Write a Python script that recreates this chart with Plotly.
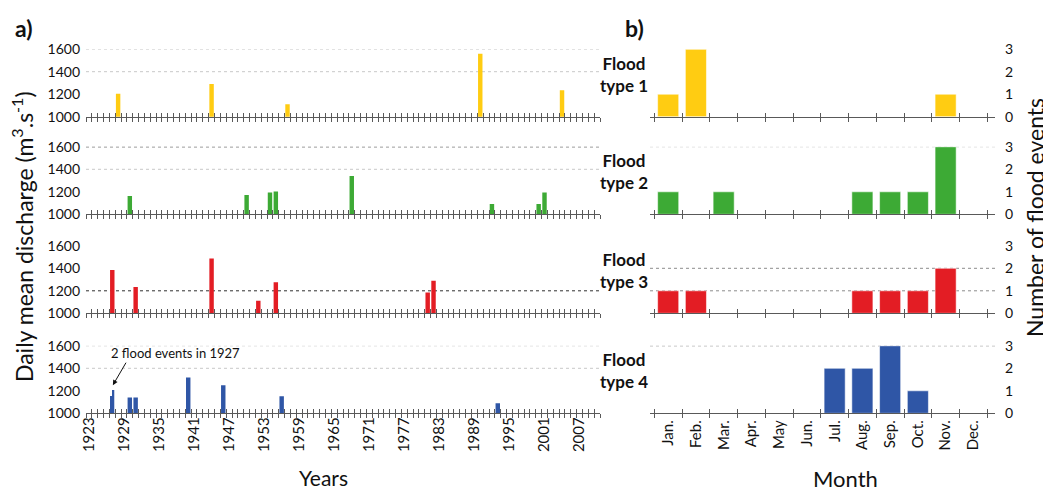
import numpy as np
import plotly.graph_objects as go
from collections import Counter

# ---------------- data ----------------
years_range = [1922.5, 2010.5]
year_label_vals = list(range(1923, 2008, 6))

months = ["Jan.", "Feb.", "Mar.", "Apr.", "May", "Jun.",
          "Jul.", "Aug.", "Sep.", "Oct.", "Nov.", "Dec."]

type1_years = [1928, 1944, 1957, 1990, 2004]
type1_discharge = [1205, 1290, 1110, 1560, 1235]
type2_years = [1930, 1950, 1954, 1955, 1968, 1992, 2000, 2001]
type2_discharge = [1162, 1171, 1194, 1203, 1340, 1091, 1091, 1194]
type3_years = [1927, 1931, 1944, 1952, 1955, 1981, 1982]
type3_discharge = [1384, 1233, 1488, 1112, 1275, 1185, 1290]
type4_years = [1927, 1927, 1930, 1931, 1940, 1946, 1956, 1993]
type4_discharge = [1153, 1206, 1141, 1141, 1318, 1249, 1151, 1089]

type1_monthly = [1, 3, 0, 0, 0, 0, 0, 0, 0, 0, 1, 0]
type2_monthly = [1, 0, 1, 0, 0, 0, 0, 1, 1, 1, 3, 0]
type3_monthly = [1, 1, 0, 0, 0, 0, 0, 1, 1, 1, 2, 0]
type4_monthly = [0, 0, 0, 0, 0, 0, 2, 2, 3, 1, 0, 0]

discharge_ticks = [1000, 1200, 1400, 1600]
count_ticks = [0, 1, 2, 3]
row_labels = ["Flood<br>type 1", "Flood<br>type 2", "Flood<br>type 3", "Flood<br>type 4"]

# reference (dotted) levels per row
left_ref = [[(1400, "light"), (1600, "light")],
            [(1400, "light"), (1600, "dark")],
            [(1200, "dark")],
            [(1400, "light"), (1600, "light")]]
right_ref = [[], [(3, "light")], [(2, "mid"), (1, "mid")], [(3, "mid")]]

colors = ["#FFCC12", "#3DAA35", "#E31D24", "#2F56A6"]

# ---------------- layout geometry (window pixels) ----------------
PAGE_W, PAGE_H = 1051, 491
BODY = 8                      # default page margin around the figure
W, H = PAGE_W - BODY, PAGE_H - BODY
row_bottom_px = [116.7, 214.3, 313.3, 413.3]
row_height_px = 67.5
left_px = (86, 600)
right_px = (650, 995)
month_range = [-0.655, 11.78]
FONT = "Lato"
TXT = "#111111"
AX = "#595959"


def px_x(x):
    return (x - BODY) / W


def px_y(y):
    return 1 - (y - BODY) / H


def xa(n):
    return "x" if n == 1 else f"x{n}"


def ya(n):
    return "y" if n == 1 else f"y{n}"


def xkey(n):
    return "xaxis" if n == 1 else f"xaxis{n}"


def ykey(n):
    return "yaxis" if n == 1 else f"yaxis{n}"


def bar_geometry(years, full=0.76, gap=0.08):
    counts = Counter(years)
    seen = {}
    widths, offsets = [], []
    for y in years:
        n = counts[y]
        k = seen.get(y, 0)
        seen[y] = k + 1
        slot = full / n
        if n > 1:
            widths.append(slot - gap)
            offsets.append(-full / 2 + k * slot + gap / 2)
        else:
            widths.append(full)
            offsets.append(-full / 2)
    return widths, offsets


left_data = [(type1_years, type1_discharge), (type2_years, type2_discharge),
             (type3_years, type3_discharge), (type4_years, type4_discharge)]
right_data = [type1_monthly, type2_monthly, type3_monthly, type4_monthly]

fig = go.Figure()
layout = dict(
    width=W, height=H,
    margin=dict(l=0, r=0, t=0, b=0, pad=0, autoexpand=False),
    paper_bgcolor="white", plot_bgcolor="white",
    showlegend=False,
    font=dict(family=FONT, size=14, color=TXT),
)

year_bounds = np.arange(years_range[0], years_range[1] + 0.001, 1.0)
month_bounds = np.arange(-0.5, len(months) - 0.5 + 0.001, 1.0)
style = {"light": "#C8C8C8", "mid": "#8C8C8C", "dark": "#303030"}
common = dict(automargin=False, showgrid=False, zeroline=False)

shapes = []
annotations = []

for i in range(4):
    r = i + 1
    L, R = r, 4 + r            # main axes ids (left / right panel)
    LO, RO = 8 + r, 12 + r     # overlay axes for inside ticks
    bottom = row_bottom_px[i]
    top = bottom - row_height_px
    ydom = [px_y(bottom), px_y(top)]

    # ---- left panel ----
    yrs, q = left_data[i]
    w, off = bar_geometry(yrs)
    fig.add_trace(go.Bar(x=yrs, y=q, width=w, offset=off,
                         marker=dict(color=colors[i], line=dict(width=0)),
                         xaxis=xa(L), yaxis=ya(L), hoverinfo="x+y"))
    layout[xkey(L)] = dict(domain=[px_x(left_px[0]), px_x(left_px[1])],
                           range=years_range, anchor=ya(L),
                           tickmode="array", tickvals=year_bounds,
                           ticks="outside", ticklen=4, tickwidth=1, tickcolor=AX,
                           showticklabels=False, showline=True, linecolor=AX,
                           linewidth=1, **common)
    layout[ykey(L)] = dict(domain=ydom, range=[1000, 1600], anchor=xa(L),
                           tickmode="array", tickvals=discharge_ticks,
                           ticks="", showline=False,
                           tickfont=dict(size=14, family=FONT, color=TXT),
                           ticklabelstandoff=5, **common)
    layout[xkey(LO)] = dict(overlaying=xa(L), anchor=ya(L), range=years_range,
                            tickmode="array", tickvals=year_bounds,
                            ticks="inside", ticklen=4, tickwidth=1, tickcolor=AX,
                            showticklabels=False, showline=False, **common)
    fig.add_trace(go.Scatter(x=[], y=[], xaxis=xa(LO), yaxis=ya(L), hoverinfo="skip"))

    # ---- right panel ----
    fig.add_trace(go.Bar(x=months, y=right_data[i], width=0.76,
                         marker=dict(color=colors[i],
                                     line=dict(color="rgba(255,255,255,0.55)", width=1)),
                         xaxis=xa(R), yaxis=ya(R), hoverinfo="x+y"))
    layout[xkey(R)] = dict(domain=[px_x(right_px[0]), px_x(right_px[1])],
                           type="category", categoryorder="array", categoryarray=months,
                           range=month_range, anchor=ya(R),
                           ticks="outside", tickson="boundaries", ticklen=4,
                           tickwidth=1, tickcolor=AX,
                           showticklabels=(r == 4), tickangle=-90,
                           tickfont=dict(size=15, family=FONT, color=TXT),
                           showline=True, linecolor=AX, linewidth=1, **common)
    layout[ykey(R)] = dict(domain=ydom, range=[0, 3], anchor=xa(R),
                           side="right", tickmode="array", tickvals=count_ticks,
                           ticks="", showline=False,
                           tickfont=dict(size=14, family=FONT, color=TXT),
                           ticklabelstandoff=9, **common)
    layout[xkey(RO)] = dict(overlaying=xa(R), anchor=ya(R),
                            range=month_range, tickmode="array", tickvals=month_bounds,
                            ticks="inside", ticklen=4, tickwidth=1, tickcolor=AX,
                            showticklabels=False, showline=False, **common)
    fig.add_trace(go.Scatter(x=[], y=[], xaxis=xa(RO), yaxis=ya(R), hoverinfo="skip"))

    # reference dotted lines
    for v, s in left_ref[i]:
        shapes.append(dict(type="line", xref=f"{xa(L)} domain", yref=ya(L), x0=0, x1=1,
                           y0=v, y1=v, layer="below",
                           line=dict(color=style[s], width=1, dash="dot")))
    for v, s in right_ref[i]:
        shapes.append(dict(type="line", xref=f"{xa(R)} domain", yref=ya(R), x0=0, x1=1,
                           y0=v, y1=v, layer="below",
                           line=dict(color=style[s], width=1, dash="dot")))

    # row label
    annotations.append(dict(text=f"<b>{row_labels[i]}</b>", xref="paper", yref="paper",
                            x=px_x(624), y=px_y(bottom - 42.5), showarrow=False,
                            xanchor="center", yanchor="middle", align="center",
                            font=dict(size=17, family=FONT, color=TXT)))

# year labels on the bottom left axis
layout[xkey(17)] = dict(overlaying=xa(4), anchor=ya(4), range=years_range,
                        tickmode="array", tickvals=year_label_vals,
                        ticktext=[str(v) for v in year_label_vals],
                        ticks="", tickangle=-90, showticklabels=True,
                        tickfont=dict(size=15, family=FONT, color=TXT),
                        showline=False, **common)
fig.add_trace(go.Scatter(x=[], y=[], xaxis=xa(17), yaxis=ya(4), hoverinfo="skip"))

# titles and panel letters
C = dict(xanchor="center", yanchor="middle", showarrow=False, xref="paper", yref="paper")
annotations += [
    dict(text="<b>a)</b>", x=px_x(24), y=px_y(28),
         font=dict(size=23, family=FONT, color=TXT), **C),
    dict(text="<b>b)</b>", x=px_x(634), y=px_y(28),
         font=dict(size=23, family=FONT, color=TXT), **C),
    dict(text="Daily mean discharge (m<sup>3</sup>.s<sup>-1</sup>)",
         x=px_x(22), y=px_y(237), textangle=-90,
         font=dict(size=23, family=FONT, color=TXT), **C),
    dict(text="Number of flood events",
         x=px_x(1035), y=px_y(218), textangle=-90,
         font=dict(size=23, family=FONT, color=TXT), **C),
    dict(text="Years", x=px_x(323), y=px_y(477),
         font=dict(size=21, family=FONT, color=TXT), **C),
    dict(text="Month", x=px_x(845), y=px_y(478),
         font=dict(size=22, family=FONT, color=TXT), **C),
    dict(text="2 flood events in 1927", xref=xa(4), yref=ya(4), x=1926.5, y=1536,
         xanchor="left", yanchor="middle", showarrow=False,
         font=dict(size=13, family=FONT, color=TXT)),
    dict(text="", xref=xa(4), yref=ya(4), x=1927.1, y=1250, ax=14, ay=-24,
         showarrow=True, arrowhead=2, arrowsize=1, arrowwidth=1, arrowcolor="#111111"),
]

layout["shapes"] = shapes
layout["annotations"] = annotations
fig.update_layout(**layout)
fig.write_html("out.html")
